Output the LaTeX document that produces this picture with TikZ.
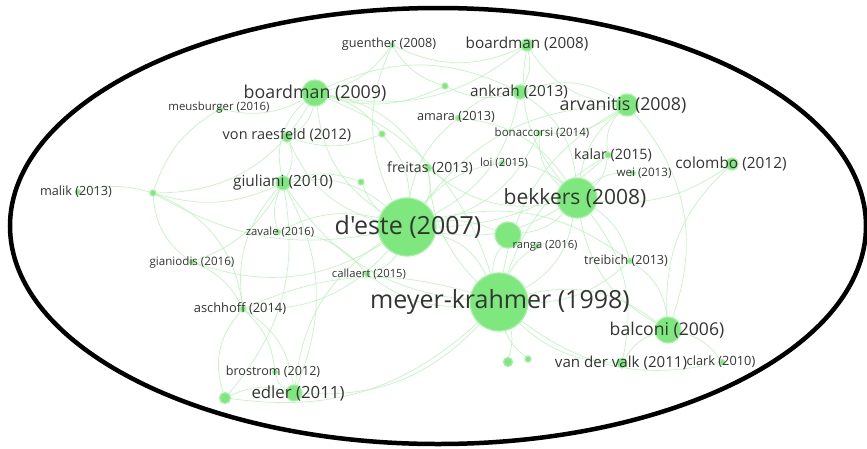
\documentclass[tikz,border=0pt]{standalone}
\usepackage{fontspec}
\usetikzlibrary{backgrounds}
\newfontfamily\labfont{Open Sans}
\definecolor{nodegreen}{RGB}{126,232,126}
\definecolor{halogreen}{RGB}{165,240,165}
\definecolor{edgegreen}{RGB}{184,242,184}
\definecolor{labgray}{RGB}{52,52,52}
\tikzset{
  bub/.style={circle, fill=nodegreen, draw=halogreen, line width=1.2pt, inner sep=0pt, minimum size=#1},
  lab/.style={font=\labfont\fontsize{#1}{#1}\selectfont, text=labgray, inner sep=0pt},
  link/.style={draw=edgegreen, line width=0.75pt, opacity=0.8},
  rim/.style={draw=black, line width=4.5pt}
}
\begin{document}
\begin{tikzpicture}[x=1pt,y=-1pt]
\useasboundingbox (0,0) rectangle (867,448);

% bubbles (diameters in pt)
\node[bub=58pt] (deste) at (407,227) {};
\node[bub=58pt] (meyer) at (499,302) {};
\node[bub=40pt] (bekkers) at (577,198) {};
\node[bub=26pt] (ranga0) at (508,235) {};
\node[bub=26pt] (bm09) at (315,93) {};
\node[bub=22pt] (arv) at (627,105) {};
\node[bub=26pt] (balc) at (668,330) {};
\node[bub=16pt] (edler) at (294,393) {};
\node[bub=14pt] (ankrah) at (520,92) {};
\node[bub=14pt] (giul) at (283,183) {};
\node[bub=12pt] (colombo) at (732,164) {};
\node[bub=12pt] (bm08) at (527,45) {};
\node[bub=10pt] (vonr) at (287,137) {};
\node[bub=10pt] (vdv) at (622,363) {};
\node[bub=11pt] (d1) at (225,398) {};
\node[bub=7pt] (freitas) at (428,168) {};
\node[bub=6pt] (kalar) at (608,155) {};
\node[bub=6pt] (asch) at (243,309) {};
\node[bub=5pt] (guen) at (392,45) {};
\node[bub=5pt] (meus) at (220,109) {};
\node[bub=5pt] (amara) at (458,118) {};
\node[bub=5pt] (bona) at (539,133) {};
\node[bub=5pt] (loi) at (502,163) {};
\node[bub=5pt] (wei) at (633,173) {};
\node[bub=5pt] (malik) at (78,192) {};
\node[bub=5pt] (zavale) at (278,232) {};
\node[bub=5pt] (gian) at (192,262) {};
\node[bub=5pt] (call) at (367,274) {};
\node[bub=5pt] (treib) at (630,261) {};
\node[bub=5pt] (brost) at (275,372) {};
\node[bub=5pt] (clark) at (722,362) {};
\node[bub=5pt] (ranga) at (537,246) {};
\node[bub=6pt] (d2) at (445,86) {};
\node[bub=6pt] (d3) at (382,134) {};
\node[bub=6pt] (d4) at (361,182) {};
\node[bub=6pt] (d5) at (153,193) {};
\node[bub=9pt] (d6) at (508,362) {};
\node[bub=6pt] (d7) at (528,359) {};

% links, kept behind the bubbles
\begin{pgfonlayer}{background}
\foreach \a/\b/\k in {
  deste/meyer/25, deste/bekkers/-20, deste/ranga0/15, deste/bm09/25, deste/giul/-25,
  deste/vonr/25, deste/freitas/-20, deste/amara/20, deste/ankrah/-25, deste/arv/25,
  deste/call/20, deste/zavale/-20, deste/asch/25, deste/d4/15, deste/d3/-20,
  deste/loi/20, deste/bona/-25, deste/treib/25, deste/edler/-25, deste/gian/25,
  deste/kalar/-20, deste/d5/20, deste/guen/25,
  meyer/bekkers/-25, meyer/ranga0/20, meyer/balc/25, meyer/vdv/-20, meyer/d6/15,
  meyer/d7/-15, meyer/call/20, meyer/edler/25, meyer/treib/-20, meyer/arv/25,
  meyer/bm09/-25, meyer/giul/25, meyer/asch/-20, meyer/kalar/20, meyer/clark/-25,
  meyer/ranga/15, meyer/freitas/20,
  bekkers/arv/20, bekkers/kalar/-20, bekkers/wei/20, bekkers/colombo/-20,
  bekkers/bona/25, bekkers/ankrah/-25, bekkers/bm08/25, bekkers/treib/20,
  bekkers/balc/-25, bekkers/ranga0/20, bekkers/loi/-20, bekkers/freitas/25,
  bekkers/amara/-25, bekkers/vdv/25,
  bm09/vonr/25, bm09/giul/-30, bm09/meus/20, bm09/d2/-20, bm09/ankrah/25,
  bm09/guen/-20, bm09/d3/20, bm09/d5/30, bm09/bm08/-25, bm09/freitas/25,
  bm08/ankrah/20, bm08/arv/-25, bm08/guen/25, guen/d2/-20, ankrah/arv/25,
  ankrah/amara/-20, ankrah/d2/20, arv/kalar/-25, arv/bona/20, arv/balc/30,
  giul/vonr/-25, giul/d5/20, giul/zavale/-20, giul/edler/25, giul/asch/-25,
  giul/gian/20, malik/d5/15, d5/gian/-25, d5/asch/30, meus/d5/-20,
  asch/edler/25, asch/d1/-30, asch/brost/20, asch/gian/-20, edler/d1/-20,
  edler/brost/25, d1/giul/-25, balc/vdv/-20, balc/clark/20, balc/treib/-25,
  balc/colombo/25, d3/vonr/20, d4/giul/-20, zavale/call/25, d1/meyer/-25}
  \draw[link] (\a) to[bend left=\k] (\b);
\end{pgfonlayer}

% labels
\node[lab=25] (t-deste) at (408,227) {d'este (2007)};
\node[lab=25] (t-meyer) at (500,302) {meyer-krahmer (1998)};
\node[lab=21] (t-bekkers) at (575,198) {bekkers (2008)};
\node[lab=17.8] (t-bm09) at (315,93) {boardman (2009)};
\node[lab=17.8] (t-arv) at (623,105) {arvanitis (2008)};
\node[lab=17.6] (t-balc) at (667,330) {balconi (2006)};
\node[lab=15.3] (t-bm08) at (527,44) {boardman (2008)};
\node[lab=15.3] (t-ankrah) at (519,92) {ankrah (2013)};
\node[lab=14.5] (t-vonr) at (287,135) {von raesfeld (2012)};
\node[lab=15.4] (t-giul) at (283,182) {giuliani (2010)};
\node[lab=14.1] (t-freitas) at (430,168) {freitas (2013)};
\node[lab=14.3] (t-kalar) at (613,155) {kalar (2015)};
\node[lab=15.4] (t-colombo) at (731,164) {colombo (2012)};
\node[lab=12.9] (t-asch) at (240,309) {aschhoff (2014)};
\node[lab=16.8] (t-edler) at (298,393) {edler (2011)};
\node[lab=15.1] (t-vdv) at (621,363) {van der valk (2011)};
\node[lab=12.7] (t-guen) at (389,44) {guenther (2008)};
\node[lab=11.4] (t-meus) at (219,108) {meusburger (2016)};
\node[lab=12.7] (t-amara) at (456,117) {amara (2013)};
\node[lab=11.5] (t-bona) at (542,133) {bonaccorsi (2014)};
\node[lab=11.3] (t-loi) at (504,163) {loi (2015)};
\node[lab=11.6] (t-wei) at (644,173) {wei (2013)};
\node[lab=12.7] (t-malik) at (76,192) {malik (2013)};
\node[lab=11.3] (t-zavale) at (280,232) {zavale (2016)};
\node[lab=11.6] (t-gian) at (192,262) {gianiodis (2016)};
\node[lab=11.3] (t-call) at (369,274) {callaert (2015)};
\node[lab=12.6] (t-treib) at (626,261) {treibich (2013)};
\node[lab=12.6] (t-brost) at (273,372) {brostrom (2012)};
\node[lab=12.8] (t-clark) at (721,362) {clark (2010)};
\node[lab=11.2] (t-ranga) at (545,246) {ranga (2016)};

% outer rim
\draw[rim] (438,226) ellipse[x radius=428, y radius=218];
\end{tikzpicture}
\end{document}
